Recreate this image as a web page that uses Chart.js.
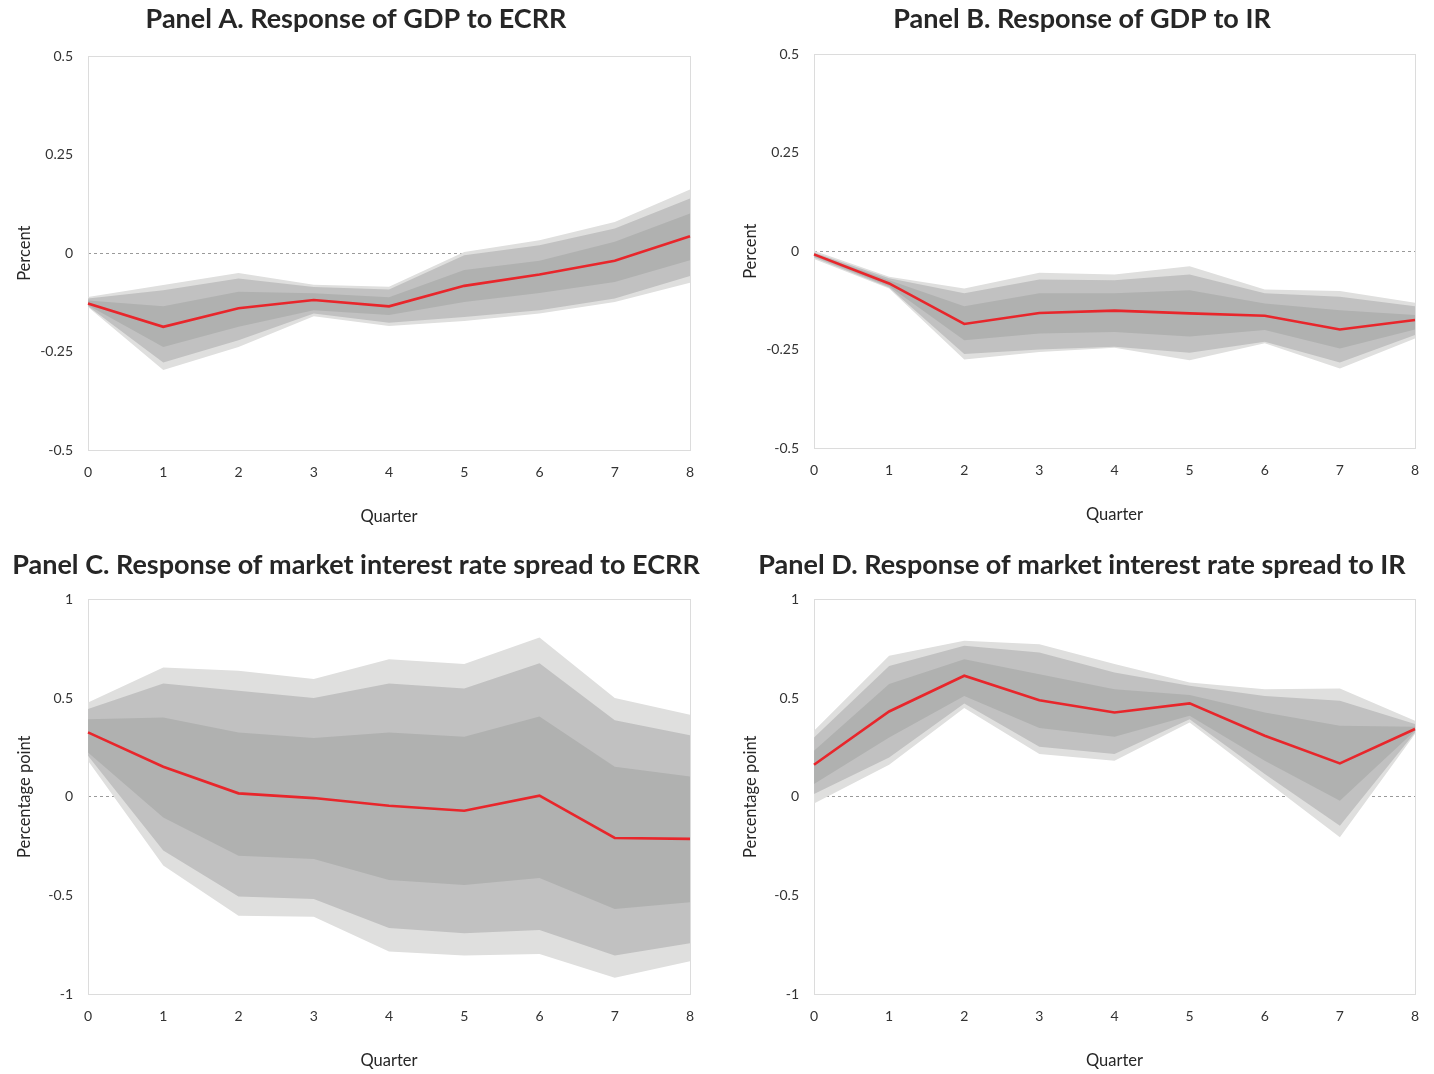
<!DOCTYPE html>
<html>
<head>
<meta charset="utf-8">
<script src="https://cdn.jsdelivr.net/npm/chart.js@4.4.1/dist/chart.umd.min.js"></script>
<style>
  html, body { margin: 0; padding: 0; background: #ffffff; overflow: hidden; }
  body { width: 1434px; height: 1074px; position: relative; }
  .panel { position: absolute; }
</style>
</head>
<body>
<div class="panel" id="pA"><canvas id="cA"></canvas></div>
<div class="panel" id="pB"><canvas id="cB"></canvas></div>
<div class="panel" id="pC"><canvas id="cC"></canvas></div>
<div class="panel" id="pD"><canvas id="cD"></canvas></div>
<script>
// ---------- DATA ----------
const quarters = ['0', '1', '2', '3', '4', '5', '6', '7', '8'];

const yTicksGDP = [-0.5, -0.25, 0, 0.25, 0.5];
const yTicksSpread = [-1, -0.5, 0, 0.5, 1];

// Panel A: GDP to ECRR
const aMedian  = [-0.128, -0.187, -0.140, -0.119, -0.135, -0.083, -0.054, -0.019, 0.043];
const aInnerUp = [-0.120, -0.135, -0.098, -0.102, -0.112, -0.043, -0.019, 0.029, 0.101];
const aInnerLo = [-0.132, -0.238, -0.187, -0.145, -0.157, -0.124, -0.101, -0.073, -0.018];
const aMidUp   = [-0.115, -0.094, -0.064, -0.086, -0.092, -0.005, 0.020, 0.063, 0.139];
const aMidLo   = [-0.135, -0.278, -0.221, -0.153, -0.177, -0.162, -0.145, -0.115, -0.058];
const aOuterUp = [-0.111, -0.081, -0.050, -0.080, -0.085, 0.003, 0.033, 0.079, 0.162];
const aOuterLo = [-0.137, -0.297, -0.238, -0.160, -0.185, -0.172, -0.153, -0.124, -0.075];

// Panel B: GDP to IR
const bMedian  = [-0.008, -0.082, -0.185, -0.157, -0.151, -0.158, -0.164, -0.199, -0.175];
const bInnerUp = [-0.006, -0.074, -0.140, -0.107, -0.107, -0.099, -0.133, -0.150, -0.162];
const bInnerLo = [-0.013, -0.089, -0.226, -0.209, -0.205, -0.217, -0.200, -0.247, -0.199];
const bMidUp   = [-0.003, -0.069, -0.107, -0.072, -0.074, -0.059, -0.107, -0.116, -0.140];
const bMidLo   = [-0.016, -0.092, -0.261, -0.250, -0.243, -0.258, -0.230, -0.283, -0.213];
const bOuterUp = [0.001, -0.065, -0.095, -0.055, -0.059, -0.038, -0.097, -0.101, -0.131];
const bOuterLo = [-0.020, -0.095, -0.275, -0.256, -0.245, -0.277, -0.234, -0.298, -0.222];

// Panel C: market interest rate spread to ECRR
const cMedian  = [0.326, 0.152, 0.017, -0.007, -0.046, -0.071, 0.005, -0.209, -0.214];
const cInnerUp = [0.393, 0.402, 0.326, 0.297, 0.326, 0.304, 0.407, 0.152, 0.103];
const cInnerLo = [0.224, -0.105, -0.299, -0.316, -0.422, -0.447, -0.412, -0.569, -0.535];
const cMidUp   = [0.444, 0.574, 0.537, 0.500, 0.574, 0.548, 0.677, 0.388, 0.312];
const cMidLo   = [0.208, -0.273, -0.506, -0.518, -0.665, -0.692, -0.675, -0.805, -0.743];
const cOuterUp = [0.478, 0.655, 0.638, 0.596, 0.697, 0.672, 0.807, 0.500, 0.415];
const cOuterLo = [0.182, -0.349, -0.603, -0.608, -0.785, -0.805, -0.797, -0.918, -0.834];

// Panel D: market interest rate spread to IR
const dMedian  = [0.162, 0.432, 0.613, 0.489, 0.427, 0.473, 0.309, 0.169, 0.343];
const dInnerUp = [0.233, 0.571, 0.697, 0.621, 0.545, 0.516, 0.427, 0.359, 0.354];
const dInnerLo = [0.064, 0.300, 0.511, 0.348, 0.304, 0.410, 0.182, -0.020, 0.334];
const dMidUp   = [0.300, 0.663, 0.765, 0.731, 0.629, 0.562, 0.511, 0.486, 0.368];
const dMidLo   = [0.014, 0.199, 0.473, 0.253, 0.216, 0.393, 0.115, -0.147, 0.326];
const dOuterUp = [0.334, 0.714, 0.790, 0.773, 0.672, 0.579, 0.545, 0.548, 0.385];
const dOuterLo = [-0.034, 0.162, 0.449, 0.216, 0.182, 0.376, 0.085, -0.206, 0.318];

// ---------- STYLE / LAYOUT ----------
const FONT = 'Lato, "Open Sans", "DejaVu Sans", sans-serif';
const C_OUTER = '#dfdfde';
const C_MID = '#c1c1c1';
const C_INNER = '#b0b1b0';
const C_LINE = '#e8262b';

const framePlugin = {
  id: 'frame',
  beforeDatasetsDraw(chart) {
    const a = chart.chartArea, ctx = chart.ctx;
    ctx.save();
    ctx.strokeStyle = '#dcdcdc';
    ctx.lineWidth = 1;
    ctx.strokeRect(Math.round(a.left) + 0.5, Math.round(a.top) + 0.5,
                   Math.round(a.right - a.left), Math.round(a.bottom - a.top));
    ctx.restore();
  }
};

function makePanel(cfg) {
  const wrap = document.getElementById(cfg.wrap);
  wrap.style.left = cfg.left + 'px';
  wrap.style.top = cfg.top + 'px';
  wrap.style.width = cfg.width + 'px';
  wrap.style.height = cfg.height + 'px';
  const s = cfg.series;
  const band = (data, color, fill) => ({
    data: data, borderWidth: 0, pointRadius: 0, borderColor: 'rgba(0,0,0,0)',
    backgroundColor: color, fill: fill, tension: 0
  });
  new Chart(document.getElementById(cfg.canvas), {
    type: 'line',
    data: {
      labels: quarters,
      datasets: [
        { data: s.median, borderColor: C_LINE, borderWidth: 2.6, pointRadius: 0, fill: false, tension: 0 },
        band(s.innerUp, C_INNER, '+1'),
        band(s.innerLo, C_INNER, false),
        band(s.midUp, C_MID, '+1'),
        band(s.midLo, C_MID, false),
        band(s.outerUp, C_OUTER, '+1'),
        band(s.outerLo, C_OUTER, false)
      ]
    },
    options: {
      responsive: true,
      maintainAspectRatio: false,
      animation: false,
      events: [],
      layout: { padding: { left: 0, top: 0, right: 0, bottom: cfg.padBottom } },
      plugins: {
        legend: { display: false },
        tooltip: { enabled: false },
        title: {
          display: true,
          text: cfg.title,
          color: '#262626',
          font: { family: FONT, size: 27, weight: 'bold' },
          padding: { top: cfg.titleTop, bottom: cfg.titleBottom }
        }
      },
      scales: {
        x: {
          type: 'category',
          offset: false,
          grid: { display: false, drawTicks: false },
          border: { display: false },
          ticks: { color: '#333333', font: { family: FONT, size: 14 }, padding: 14, maxRotation: 0, autoSkip: false },
          title: { display: true, text: 'Quarter', color: '#262626', font: { family: FONT, size: 16.5 }, padding: { top: 0, bottom: 8 } },
          afterFit(scale) { scale.height = 85; }
        },
        y: {
          type: 'linear',
          min: cfg.yTicks[0],
          max: cfg.yTicks[cfg.yTicks.length - 1],
          afterBuildTicks(scale) { scale.ticks = cfg.yTicks.map(v => ({ value: v })); },
          grid: {
            drawTicks: false,
            color: (ctx) => (ctx.tick && ctx.tick.value === 0) ? '#9a9a9a' : 'rgba(0,0,0,0)',
            lineWidth: 1
          },
          border: { display: false, dash: [3, 3] },
          ticks: { color: '#333333', font: { family: FONT, size: 14 }, padding: 15, callback: (v) => String(v) },
          title: { display: true, text: cfg.yTitle, color: '#262626', font: { family: FONT, size: 16.5 }, padding: { top: 15, bottom: 0 } },
          afterFit(scale) { scale.width = 88; }
        },
        yRight: {
          type: 'linear',
          position: 'right',
          min: cfg.yTicks[0],
          max: cfg.yTicks[cfg.yTicks.length - 1],
          grid: { display: false, drawTicks: false },
          border: { display: false },
          ticks: { display: false },
          afterFit(scale) { scale.width = cfg.rightGap; }
        }
      }
    },
    plugins: [framePlugin]
  });
}

makePanel({
  wrap: 'pA', canvas: 'cA', left: 0, top: 0, width: 712, height: 535,
  rightGap: 22, padBottom: 0, titleTop: 3, titleBottom: 21,
  title: 'Panel A. Response of GDP to ECRR', yTitle: 'Percent', yTicks: yTicksGDP,
  series: { median: aMedian, innerUp: aInnerUp, innerLo: aInnerLo, midUp: aMidUp, midLo: aMidLo, outerUp: aOuterUp, outerLo: aOuterLo }
});
makePanel({
  wrap: 'pB', canvas: 'cB', left: 726, top: 0, width: 712, height: 535,
  rightGap: 23, padBottom: 2, titleTop: 3, titleBottom: 19,
  title: 'Panel B. Response of GDP to IR', yTitle: 'Percent', yTicks: yTicksGDP,
  series: { median: bMedian, innerUp: bInnerUp, innerLo: bInnerLo, midUp: bMidUp, midLo: bMidLo, outerUp: bOuterUp, outerLo: bOuterLo }
});
makePanel({
  wrap: 'pC', canvas: 'cC', left: 0, top: 545, width: 712, height: 534,
  rightGap: 22, padBottom: 0, titleTop: 4, titleBottom: 18,
  title: 'Panel C. Response of market interest rate spread to ECRR', yTitle: 'Percentage point', yTicks: yTicksSpread,
  series: { median: cMedian, innerUp: cInnerUp, innerLo: cInnerLo, midUp: cMidUp, midLo: cMidLo, outerUp: cOuterUp, outerLo: cOuterLo }
});
makePanel({
  wrap: 'pD', canvas: 'cD', left: 726, top: 545, width: 712, height: 534,
  rightGap: 23, padBottom: 0, titleTop: 4, titleBottom: 18,
  title: 'Panel D. Response of market interest rate spread to IR', yTitle: 'Percentage point', yTicks: yTicksSpread,
  series: { median: dMedian, innerUp: dInnerUp, innerLo: dInnerLo, midUp: dMidUp, midLo: dMidLo, outerUp: dOuterUp, outerLo: dOuterLo }
});
</script>
</body>
</html>
